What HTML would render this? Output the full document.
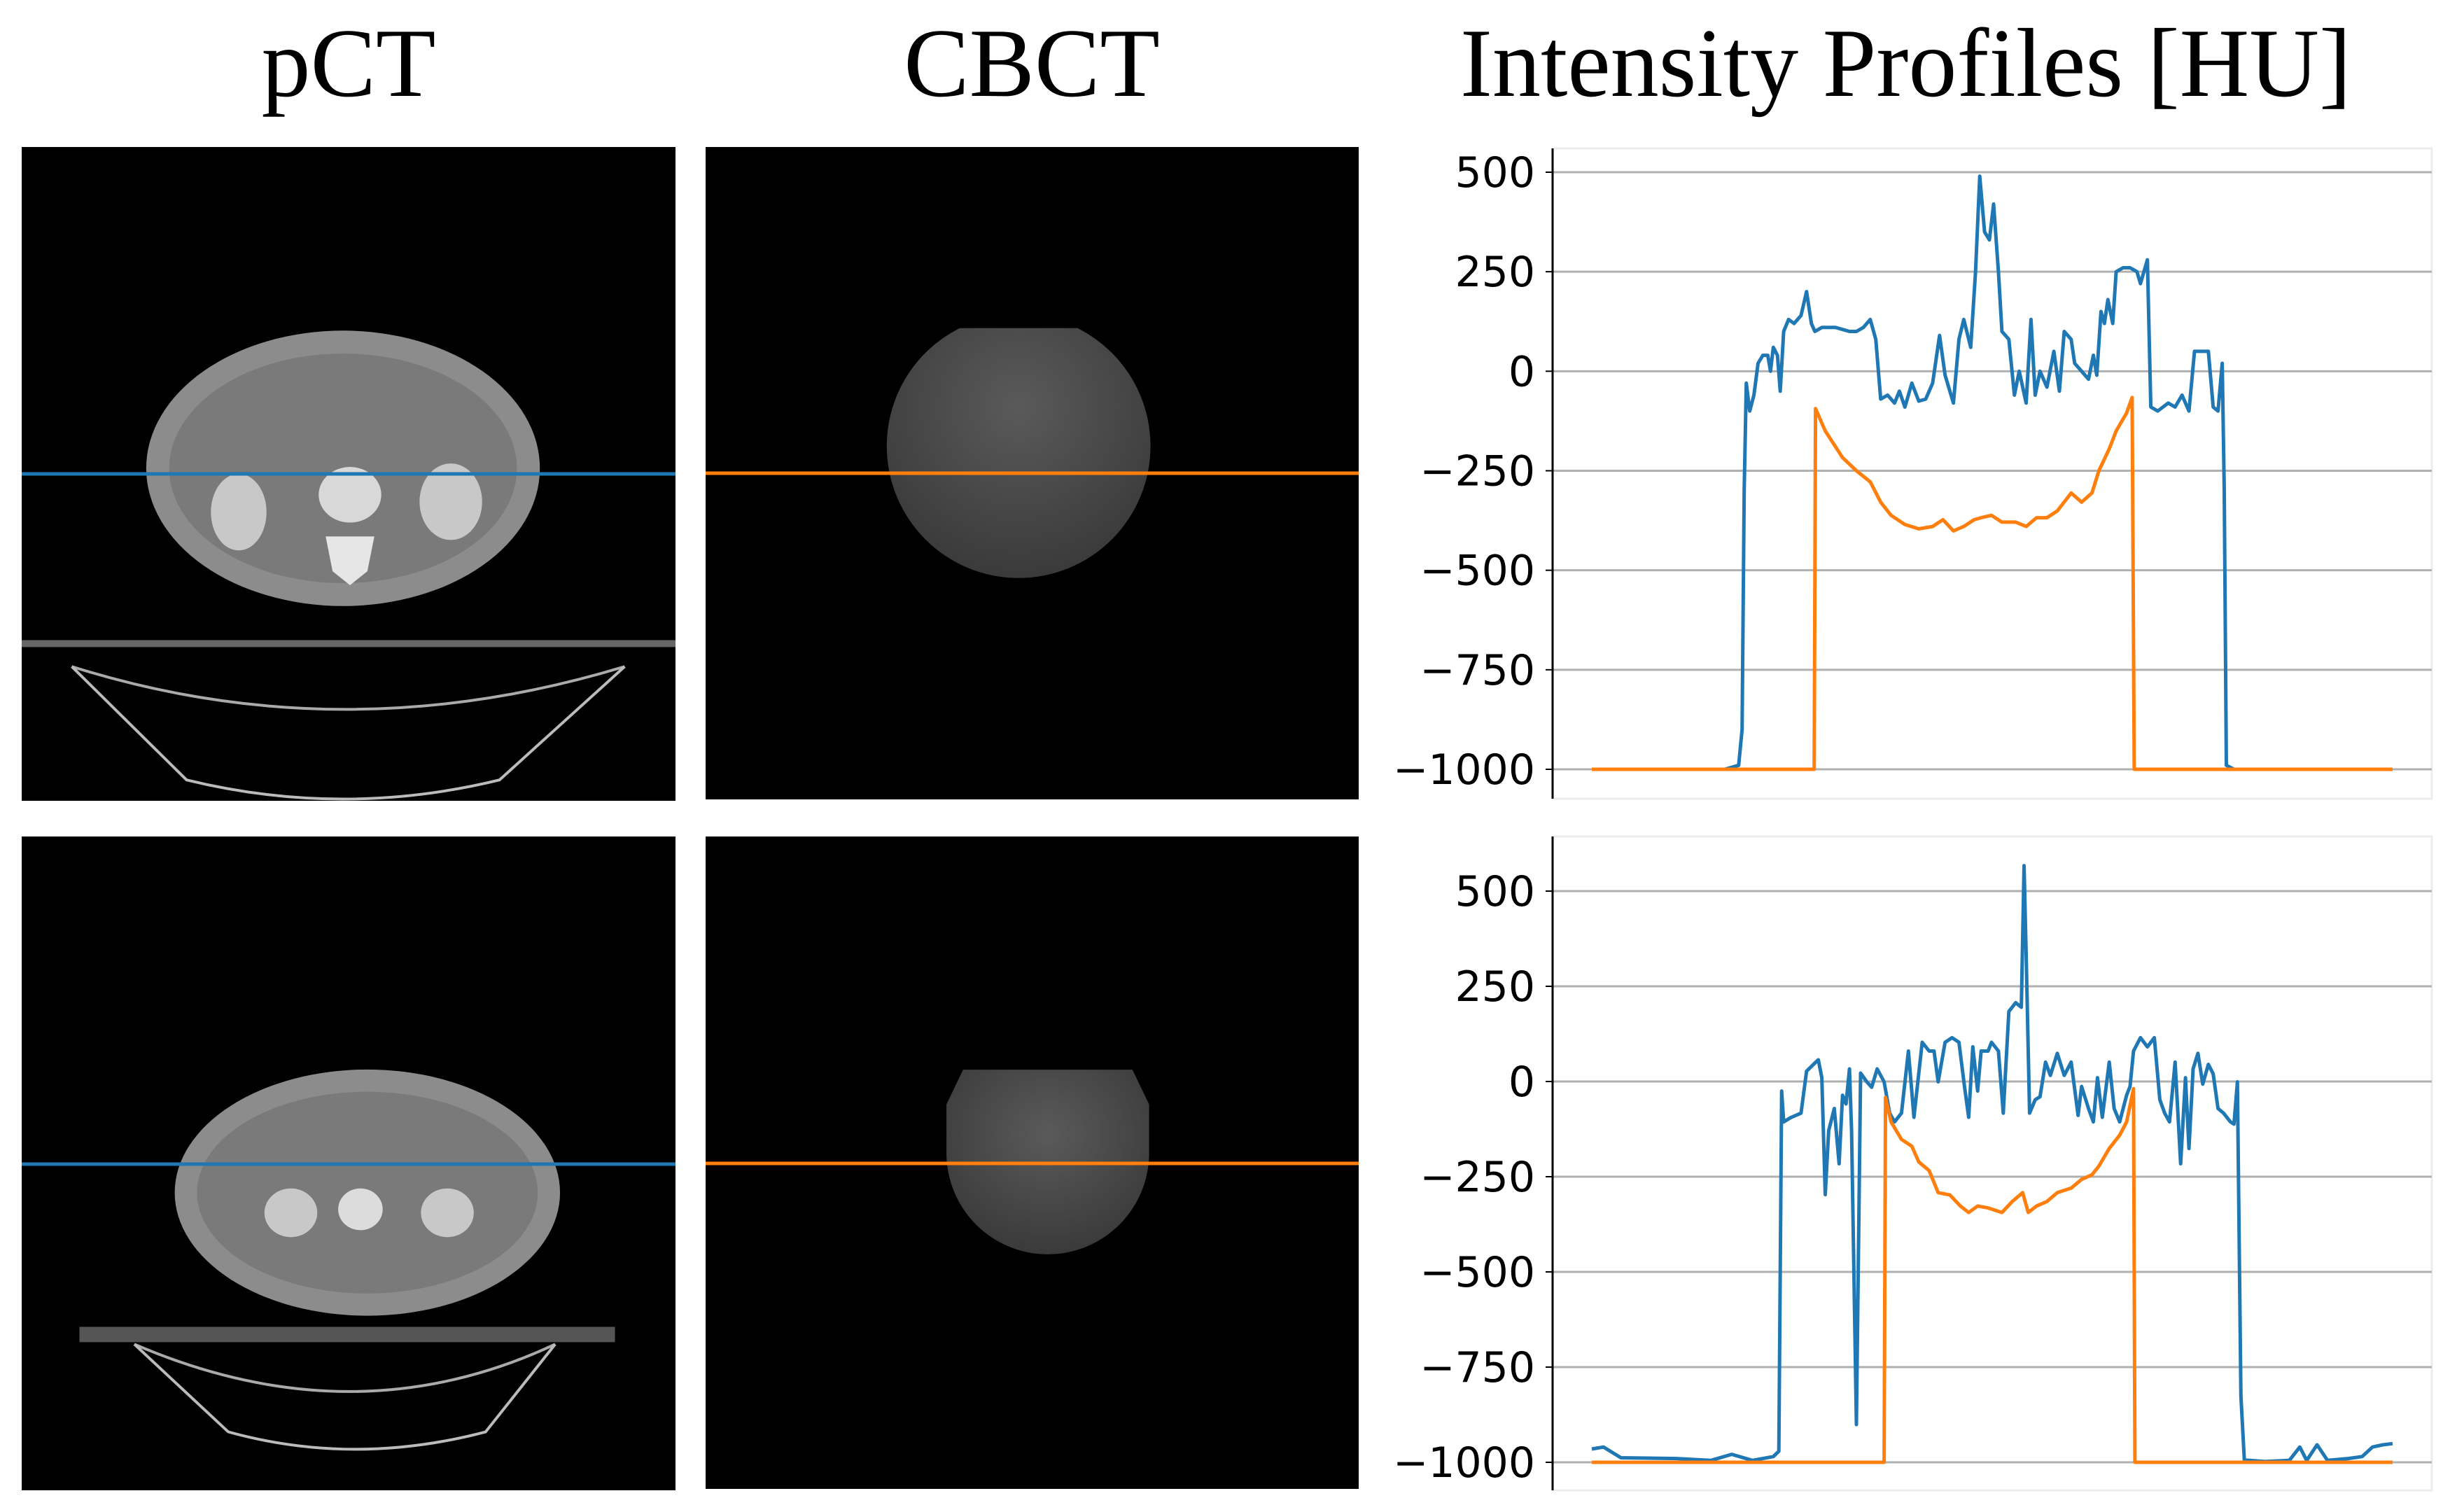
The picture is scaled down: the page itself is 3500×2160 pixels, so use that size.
<!DOCTYPE html>
<html><head><meta charset="utf-8"><title>pCT vs CBCT intensity profiles</title>
<style>html,body{margin:0;padding:0;background:#fff}svg{display:block}</style></head>
<body>
<svg id="fig" width="3500" height="2160" viewBox="0 0 3500 2160" xmlns="http://www.w3.org/2000/svg">
<defs>
<radialGradient id="cbg" cx="50%" cy="35%" r="65%"><stop offset="0" stop-color="#5a5a5a"/><stop offset="1" stop-color="#3a3a3a"/></radialGradient>
<clipPath id="clipTop"><rect x="1015" y="471" width="941" height="700"/></clipPath>
</defs>
<g font-family="'Liberation Serif', serif" font-size="140" fill="#000">
<text x="498" y="137" text-anchor="middle">pCT</text>
<text x="1474" y="137" text-anchor="middle">CBCT</text>
<text x="2086" y="137" textLength="1273" lengthAdjust="spacingAndGlyphs">Intensity Profiles [HU]</text>
</g>
<!-- top pCT -->
<g transform="translate(31,210) scale(0.9936) translate(-33,-210)">
<rect x="33" y="210" width="940" height="940" fill="#000"/>
<ellipse cx="495" cy="672" rx="283" ry="198" fill="#8c8c8c"/>
<ellipse cx="495" cy="672" rx="250" ry="165" fill="#7a7a7a"/>
<ellipse cx="345" cy="735" rx="40" ry="55" fill="#c8c8c8"/>
<ellipse cx="650" cy="720" rx="45" ry="55" fill="#c8c8c8"/>
<ellipse cx="505" cy="710" rx="45" ry="40" fill="#d8d8d8"/>
<path d="M470 770 L540 770 L530 820 L505 840 L480 820 Z" fill="#e6e6e6"/>
<rect x="33" y="919" width="940" height="10" fill="#666"/>
<path d="M105 957 Q495 1080 900 957" stroke="#aaa" stroke-width="4" fill="none"/>
<path d="M105 957 L270 1120 Q495 1175 720 1120 L900 957" stroke="#bbb" stroke-width="4" fill="none"/>
<line x1="33" y1="680" x2="973" y2="680" stroke="#1f77b4" stroke-width="5"/>
</g>
<!-- top CBCT -->
<g transform="translate(1008,210) scale(0.9915) translate(-1015,-210)">
<rect x="1015" y="210" width="941" height="940" fill="#000"/>
<circle cx="1466" cy="641" r="190" fill="url(#cbg)" clip-path="url(#clipTop)"/>
<line x1="1015" y1="680" x2="1956" y2="680" stroke="#ff7f0e" stroke-width="5"/>
</g>
<!-- bottom pCT -->
<g transform="translate(31,1195) scale(0.9936) translate(-33,-1204)">
<rect x="33" y="1204" width="940" height="940" fill="#000"/>
<ellipse cx="530" cy="1716" rx="277" ry="177" fill="#8c8c8c"/>
<ellipse cx="530" cy="1716" rx="245" ry="145" fill="#7a7a7a"/>
<ellipse cx="420" cy="1745" rx="38" ry="35" fill="#c8c8c8"/>
<ellipse cx="645" cy="1745" rx="38" ry="35" fill="#c8c8c8"/>
<ellipse cx="520" cy="1740" rx="32" ry="30" fill="#dcdcdc"/>
<rect x="116" y="1909" width="770" height="22" fill="#555"/>
<path d="M195 1934 Q510 2070 800 1934" stroke="#aaa" stroke-width="4" fill="none"/>
<path d="M195 1934 L330 2060 Q510 2110 700 2060 L800 1934" stroke="#bbb" stroke-width="4" fill="none"/>
<line x1="33" y1="1675" x2="973" y2="1675" stroke="#1f77b4" stroke-width="5"/>
</g>
<!-- bottom CBCT -->
<g transform="translate(1008,1195) scale(0.9915) translate(-1015,-1204)">
<rect x="1015" y="1204" width="941" height="940" fill="#000"/>
<path d="M1362 1590 L1362 1660 A146 146 0 0 0 1654 1660 L1654 1590 L1630 1540 L1386 1540 Z" fill="url(#cbg)"/>
<line x1="1015" y1="1675" x2="1956" y2="1675" stroke="#ff7f0e" stroke-width="5"/>
</g>
<g id="charts"></g>
</svg>
<script>
// shared tick values
const tickValues = [500, 250, 0, -250, -500, -750, -1000];
const tickLabels = ["500", "250", "0", "\u2212250", "\u2212500", "\u2212750", "\u22121000"];
// profile sample positions and HU values (top row)
const topPctX = [328,520,530,540,545,548,551,556,562,568,575,582,586,590,596,600,605,612,620,630,638,645,650,660,680,700,710,720,730,738,745,755,765,772,780,790,800,810,820,830,838,850,858,865,875,882,888,895,902,908,915,920,930,938,945,955,962,968,975,985,995,1003,1010,1020,1025,1035,1045,1052,1057,1063,1068,1073,1080,1085,1095,1105,1115,1120,1130,1135,1145,1160,1170,1180,1190,1198,1210,1218,1225,1232,1238,1241,1244,1255,1484];
const topPctHU = [-1000,-1000,-995,-990,-900,-300,-30,-100,-60,20,40,40,0,60,40,-50,100,130,120,140,200,120,100,110,110,100,100,110,130,80,-70,-60,-80,-50,-90,-30,-75,-70,-30,90,-10,-80,80,130,60,250,490,350,330,420,250,100,80,-60,0,-80,130,-60,0,-40,50,-50,100,80,20,0,-20,40,-10,150,120,180,120,250,260,260,250,220,280,-90,-100,-80,-90,-60,-100,50,50,50,-90,-100,20,-300,-990,-1000,-1000];
const topCbctX = [328,649,651,665,690,710,730,745,760,780,800,820,835,850,865,880,890,905,920,940,955,970,985,1000,1020,1035,1050,1060,1075,1085,1100,1108,1111,1484];
const topCbctHU = [-1000,-1000,-94,-150,-217,-250,-278,-329,-362,-385,-396,-390,-373,-401,-390,-373,-368,-362,-379,-379,-390,-368,-368,-351,-306,-329,-306,-250,-195,-150,-105,-66,-1000,-1000];
// bottom row
const botPctX = [328,345,370,450,500,530,560,590,598,602,605,615,630,638,648,655,660,665,670,678,685,690,695,700,703,710,716,725,732,740,750,758,765,775,785,793,805,815,822,828,838,848,858,866,872,878,885,890,900,905,915,922,930,940,948,952,955,960,968,975,983,990,1000,1010,1020,1030,1035,1045,1052,1058,1065,1075,1082,1090,1100,1105,1110,1120,1130,1140,1148,1155,1162,1170,1178,1185,1190,1196,1203,1210,1218,1225,1232,1240,1250,1255,1260,1265,1270,1300,1335,1350,1360,1375,1390,1420,1440,1455,1470,1484];
const botPctHU = [-965,-960,-988,-990,-995,-979,-995,-985,-971,-25,-106,-95,-83,27,45,57,10,-297,-129,-71,-216,-36,-59,33,-129,-901,22,-1,-15,33,-1,-83,-106,-83,80,-94,103,80,80,-1,103,115,103,-13,-94,91,-25,80,80,103,80,-83,184,207,195,567,335,-83,-48,-40,51,16,74,16,51,-89,-13,-71,-106,10,-94,51,-71,-106,-36,-13,80,115,91,115,-48,-83,-106,51,-216,10,-176,33,74,-7,45,20,-71,-83,-106,-112,-1,-826,-994,-998,-995,-960,-995,-954,-995,-990,-985,-960,-954,-951];
const botCbctX = [328,750,752,760,775,790,800,815,828,845,860,872,885,900,920,935,950,958,970,985,1000,1020,1035,1050,1060,1075,1090,1100,1110,1112,1484];
const botCbctHU = [-1000,-1000,-42,-106,-152,-170,-211,-234,-292,-298,-327,-344,-327,-332,-344,-315,-292,-344,-327,-315,-292,-280,-257,-245,-222,-176,-141,-106,-19,-1000,-1000];

const NS = "http://www.w3.org/2000/svg";
const root = document.getElementById('charts');
function mk(tag, attrs, parent) {
  const e = document.createElementNS(NS, tag);
  for (const k in attrs) e.setAttribute(k, attrs[k]);
  parent.appendChild(e);
  return e;
}
function drawChart(cfg) {
  const g = mk('g', {}, root);
  
  
  const xScale = v => cfg.x0 + (v - 328) / (1484 - 328) * (cfg.x1 - cfg.x0);
  const yScale = v => cfg.y500 + (500 - v) / 1500 * (cfg.yM1000 - cfg.y500);
  const frame = mk('rect', {x: cfg.left, y: cfg.top, width: cfg.right - cfg.left, height: cfg.bottom - cfg.top, fill: 'none', stroke: '#ececec', 'stroke-width': 3}, g);
  
  
  tickValues.forEach((v, i) => {
    const y = yScale(v);
    const gl = mk('line', {x1: cfg.left, x2: cfg.right, y1: y, y2: y, stroke: '#b0b0b0', 'stroke-width': 3}, g);
    
    
    const tk = mk('line', {x1: cfg.left - 10, x2: cfg.left, y1: y, y2: y, stroke: '#000', 'stroke-width': 2}, g);
    
    
    const t = mk('text', {x: cfg.left - 25, y: y + 21, 'text-anchor': 'end', 'font-family': "'DejaVu Sans', sans-serif", 'font-size': 60, fill: '#000'}, g);
    t.textContent = tickLabels[i];
    
    
  });
  const ax = mk('line', {x1: cfg.left, x2: cfg.left, y1: cfg.top, y2: cfg.bottom, stroke: '#000', 'stroke-width': 3}, g);
  
  
  cfg.series.forEach(s => {
    const d = s.xs.map((v, i) => (i ? 'L' : 'M') + xScale(v).toFixed(1) + ' ' + yScale(s.ys[i]).toFixed(1)).join(' ');
    const p = mk('path', {d: d, fill: 'none', stroke: s.color, 'stroke-width': 5, 'stroke-linejoin': 'round'}, g);
    
    
  });
}
drawChart({name: 'profile-chart-top', left: 2218, right: 3474, top: 212, bottom: 1141, x0: 2274, x1: 3418, y500: 246, yM1000: 1099,
  series: [{xs: topPctX, ys: topPctHU, color: '#1f77b4', name: 'pct-profile-series-top'},
           {xs: topCbctX, ys: topCbctHU, color: '#ff7f0e', name: 'cbct-profile-series-top'}]});
drawChart({name: 'profile-chart-bottom', left: 2218, right: 3474, top: 1195, bottom: 2129, x0: 2274, x1: 3418, y500: 1273, yM1000: 2089,
  series: [{xs: botPctX, ys: botPctHU, color: '#1f77b4', name: 'pct-profile-series-bottom'},
           {xs: botCbctX, ys: botCbctHU, color: '#ff7f0e', name: 'cbct-profile-series-bottom'}]});
</script>
</body></html>
